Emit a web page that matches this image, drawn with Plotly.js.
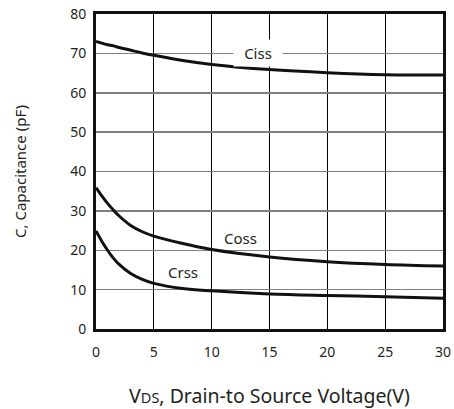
<!DOCTYPE html>
<html><head><meta charset="utf-8">
<script src="https://cdn.plot.ly/plotly-3.0.1.min.js"></script>
<style>html,body{margin:0;padding:0;background:#fff}#chart{width:454px;height:409px}</style>
</head><body><div id="chart"></div>
<script>
const vds = [0, 0.5, 1, 1.5, 2, 3, 4, 5, 7.5, 10, 15, 20, 25, 30];
const ciss = [73.0, 72.6, 72.2, 71.9, 71.5, 70.8, 70.1, 69.5, 68.2, 67.2, 65.9, 65.1, 64.6, 64.5];
const coss = [35.9, 33.8, 31.9, 30.2, 28.7, 26.3, 24.7, 23.6, 21.7, 20.2, 18.3, 17.1, 16.4, 16.0];
const crss = [24.9, 22.3, 20.0, 18.0, 16.4, 14.1, 12.6, 11.6, 10.3, 9.7, 8.9, 8.5, 8.2, 7.8];
const xTicks = [0, 5, 10, 15, 20, 25, 30];
const yTicks = [0, 10, 20, 30, 40, 50, 60, 70, 80];
const labels = [
  {name: 'Ciss', x: 14.0, y: 70, box: true},
  {name: 'Coss', x: 12.5, y: 23.0, box: false},
  {name: 'Crss', x: 7.5, y: 14.4, box: false}
];

const font = 'Noto Sans, Open Sans, sans-serif';
const ink = '#231f20';
const mk = (y, n) => ({x: vds, y: y, name: n, mode: 'lines', type: 'scatter',
  line: {color: '#111', width: 3, shape: 'spline', smoothing: 1}, hoverinfo: 'skip'});
const data = [mk(ciss, 'Ciss'), mk(coss, 'Coss'), mk(crss, 'Crss')];

const layout = {
  width: 454, height: 409,
  margin: {l: 96, r: 11, t: 14, b: 80},
  paper_bgcolor: '#fff', plot_bgcolor: '#fff',
  showlegend: false,
  font: {family: font, color: ink, size: 14},
  xaxis: {range: [0, 30], tickvals: xTicks, ticks: '', ticklabelstandoff: 8,
    showgrid: true, gridcolor: '#000', gridwidth: 1, zeroline: false,
    showline: true, linecolor: '#111', linewidth: 3, mirror: true,
    tickfont: {size: 14, color: ink},
    title: {text: 'V<span style="font-size:14.5px">DS</span>, Drain-to Source Voltage(V)', font: {size: 19.5, color: ink}, standoff: 34}},
  yaxis: {range: [0, 80], tickvals: yTicks, ticks: '', ticklabelstandoff: 4,
    showgrid: true, gridcolor: '#808080', gridwidth: 1.5, zeroline: false,
    showline: true, linecolor: '#111', linewidth: 3, mirror: true,
    tickfont: {size: 14, color: ink},
    title: {text: 'C, Capacitance (pF)', font: {size: 15, color: ink}, standoff: 40}},
  annotations: labels.map(l => ({x: l.x, y: l.y, xref: 'x', yref: 'y', text: l.name,
    showarrow: false, font: {size: 15, color: ink},
    bgcolor: l.box ? '#fff' : 'rgba(0,0,0,0)', borderpad: l.box ? 3 : 0,
    width: l.box ? 42 : undefined,
    xanchor: 'center', yanchor: 'middle'}))
};
Plotly.newPlot('chart', data, layout, {staticPlot: true, displayModeBar: false});
</script></body></html>
